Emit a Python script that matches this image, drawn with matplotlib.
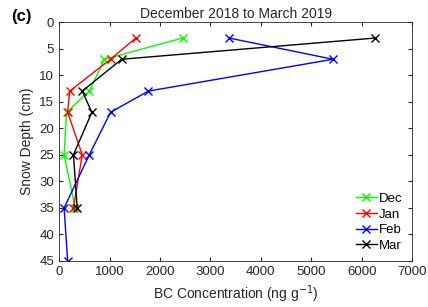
import matplotlib.pyplot as plt

plt.rcParams["font.family"] = ["Liberation Sans", "DejaVu Sans"]

depth = [3, 7, 13, 17, 25, 35]
depth_feb = [3, 7, 13, 17, 25, 35, 45]

dec = [2450, 900, 600, 150, 100, 320]
jan = [1520, 1020, 210, 170, 460, 285]
feb = [3370, 5430, 1770, 1020, 600, 100, 170]
mar = [6270, 1240, 460, 650, 285, 360]

SERIES = [
    ("Dec", dec, depth, "#00ff00"),
    ("Jan", jan, depth, "#ff0000"),
    ("Feb", feb, depth_feb, "#0000ff"),
    ("Mar", mar, depth, "#000000"),
]

fig = plt.figure(figsize=(4.28, 3.07), dpi=100)
ax = fig.add_axes([0.138, 0.150, 0.825, 0.778])

for label, xs, ys, color in SERIES:
    ax.plot(xs, ys, color=color, marker="x", markersize=6, linewidth=1.0, label=label)

ax.set_xlim(0, 7000)
ax.set_ylim(45, 0)
ax.set_xticks(range(0, 7001, 1000))
ax.set_yticks(range(0, 46, 5))
ax.tick_params(direction="in", top=True, right=True, labelsize=9.5, length=3,
               colors="#262626", labelcolor="#262626")
for s in ax.spines.values():
    s.set_color("#262626")
    s.set_linewidth(0.6)

ax.set_xlabel("BC Concentration (ng g$^{-1}$)", fontsize=10, color="#262626")
ax.set_ylabel("Snow Depth (cm)", fontsize=10, color="#262626")
ax.set_title("December 2018 to March 2019", fontsize=10, color="#262626", pad=3)
fig.text(0.025, 0.93, "(c)", fontsize=12, fontweight="bold")

ax.legend(loc="lower right", frameon=False, fontsize=9.5, handlelength=1.6,
          handletextpad=0.2, labelspacing=0.25, borderaxespad=0.3)

fig.savefig("out.png", dpi=100)
